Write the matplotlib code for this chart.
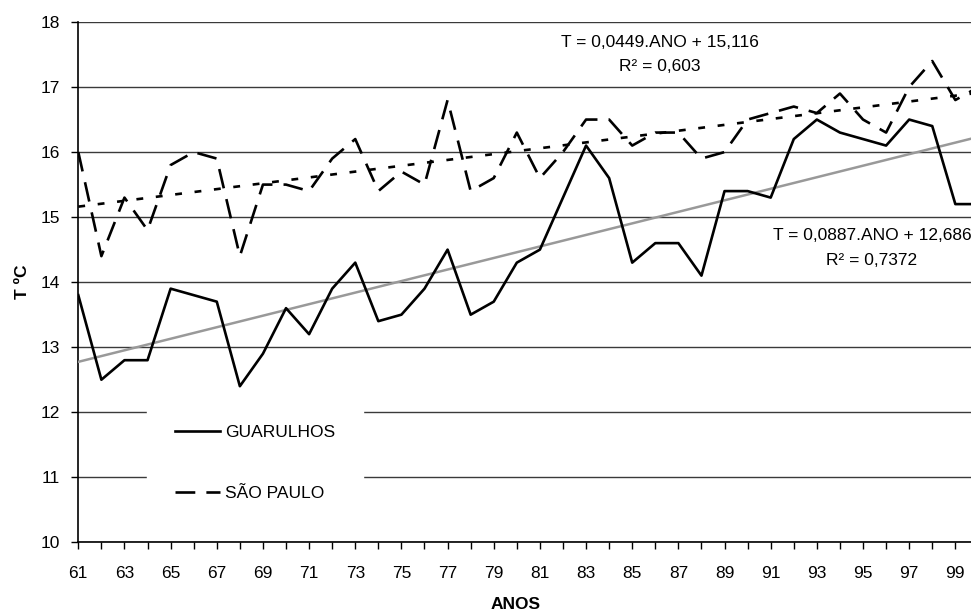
#! /usr/bin/env python3

import matplotlib
matplotlib.use("Agg")
import matplotlib.pyplot as plt
import numpy

"""
Données lues sur le graphique (températures moyennes annuelles, 1961-2000).
"""

anos = list(range(61, 101))

guarulhos = [13.8, 12.5, 12.8, 12.8, 13.9, 13.8, 13.7, 12.4, 12.9, 13.6,
             13.2, 13.9, 14.3, 13.4, 13.5, 13.9, 14.5, 13.5, 13.7, 14.3,
             14.5, 15.3, 16.1, 15.6, 14.3, 14.6, 14.6, 14.1, 15.4, 15.4,
             15.3, 16.2, 16.5, 16.3, 16.2, 16.1, 16.5, 16.4, 15.2, 15.2]

sao_paulo = [16.0, 14.4, 15.3, 14.8, 15.8, 16.0, 15.9, 14.4, 15.5, 15.5,
             15.4, 15.9, 16.2, 15.4, 15.7, 15.5, 16.8, 15.4, 15.6, 16.3,
             15.6, 16.0, 16.5, 16.5, 16.1, 16.3, 16.3, 15.9, 16.0, 16.5,
             16.6, 16.7, 16.6, 16.9, 16.5, 16.3, 17.0, 17.4, 16.8, 17.0]

# droites de tendance (coefficients affichés sur le graphique, ANO = 1..40)
coef_gru = (0.0887, 12.686)
coef_sp = (0.0449, 15.116)

eq_sp = ["T = 0,0449.ANO + 15,116", "R² = 0,603"]
eq_gru = ["T = 0,0887.ANO + 12,686", "R² = 0,7372"]

"""
Figure.
"""

plt.rcParams["font.family"] = ["Liberation Sans", "DejaVu Sans"]
plt.rcParams["font.size"] = 12.5

fig = plt.figure(figsize=(9.71, 6.15), dpi=100)
ax = fig.add_axes([78.3 / 971, 72.7 / 615, (971 - 78.3) / 971, 520.3 / 615])

x = numpy.array(anos)
ano = numpy.arange(1, len(anos) + 1)

ax.plot(x, coef_gru[0] * ano + coef_gru[1], color="#999999", lw=1.8, zorder=3)
ax.plot(x, coef_sp[0] * ano + coef_sp[1], color="black", lw=1.9,
        linestyle=(0, (2.6, 4.8)), zorder=3)

l1, = ax.plot(x, guarulhos, color="black", lw=1.9, zorder=4,
              label="GUARULHOS")
l2, = ax.plot(x, sao_paulo, color="black", lw=1.9, zorder=4,
              linestyle=(0, (7.5, 4.2)), label="SÃO PAULO")

ax.set_xlim(61, 61 + (971 - 78.3) / 23.08)
ax.set_ylim(10, 18)

ax.set_xticks(anos[:39])
ax.set_xticklabels([str(a) if a % 2 == 1 else "" for a in anos[:39]])
ax.set_yticks(range(10, 19))
ax.tick_params(axis="x", direction="out", length=5, width=1, pad=12)
ax.tick_params(axis="y", direction="out", length=5, width=1, pad=8)

ax.grid(axis="y", color="#3a3a3a", lw=1.0, zorder=1)
ax.spines["right"].set_visible(False)
ax.spines["top"].set_visible(False)
for s in ("left", "bottom"):
    ax.spines[s].set_linewidth(1.2)

ax.set_ylabel("T ºC", fontweight="bold", labelpad=8)
ax.set_xlabel("ANOS", fontweight="bold")
ax.xaxis.set_label_coords((516 - 78.3) / (971 - 78.3), -0.105)

ax.text(86.2, 17.68, eq_sp[0], ha="center", va="center", zorder=5)
ax.text(86.2, 17.31, eq_sp[1], ha="center", va="center", zorder=5)
ax.text(95.39, 14.72, eq_gru[0], ha="center", va="center", zorder=5)
ax.text(95.39, 14.34, eq_gru[1], ha="center", va="center", zorder=5)

leg = ax.legend(handles=[l1, l2], loc="upper left",
                bbox_to_anchor=(147 / 971, 1 - 397 / 615),
                bbox_transform=fig.transFigure, borderaxespad=0,
                frameon=True, facecolor="white", edgecolor="white",
                framealpha=1, fancybox=False, borderpad=1.6,
                labelspacing=2.65, handlelength=2.6, handletextpad=0.3)
leg.set_zorder(10)

fig.savefig("out.png", dpi=100)
